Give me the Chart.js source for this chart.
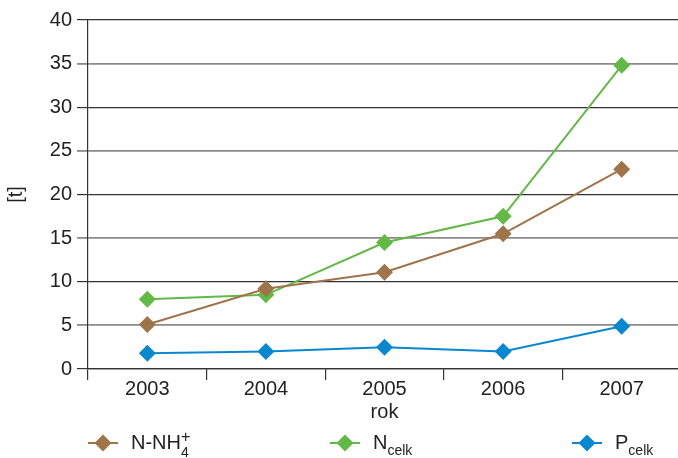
<!DOCTYPE html>
<html>
<head>
<meta charset="utf-8">
<script src="https://cdn.jsdelivr.net/npm/chart.js@4/dist/chart.umd.min.js"></script>
<style>
  html, body { margin: 0; padding: 0; background: #fff; }
  .wrap { position: relative; width: 678px; height: 458px; overflow: hidden; }
  canvas { position: absolute; left: 0; top: 0; }
  .legend { position: absolute; left: 0; top: 0; width: 678px; height: 458px; pointer-events: none;
            font-family: "Liberation Sans", Arial, sans-serif; font-size: 20px; color: #222; }
  .item { position: absolute; top: 430px; height: 26px; }
  .line { position: absolute; top: 11.5px; width: 30px; height: 2.5px; }
  .dia { position: absolute; top: 6.5px; left: 9px; width: 12px; height: 12px; transform: rotate(45deg); }
  .txt { position: absolute; left: 43px; top: 0; white-space: nowrap; line-height: 24px; }
  .sub { font-size: 14px; position: relative; top: 6px; }
  .ion { display: inline-block; position: relative; width: 10px; height: 24px; vertical-align: top; }
  .ion .lo { position: absolute; left: 0; top: 10px; font-size: 14px; }
  .ion .hi { position: absolute; left: 0; top: -5px; font-size: 16px; }
</style>
</head>
<body>
<div class="wrap">
  <canvas id="chart" width="700" height="458" style="width:700px;height:458px"></canvas>
  <div class="legend">
    <div class="item" style="left:88px">
      <div class="line" style="background:#A0744B"></div>
      <div class="dia" style="background:#A0744B"></div>
      <div class="txt">N-NH<span class="ion"><span class="lo">4</span><span class="hi">+</span></span></div>
    </div>
    <div class="item" style="left:330px">
      <div class="line" style="background:#62B946"></div>
      <div class="dia" style="background:#62B946"></div>
      <div class="txt">N<span class="sub">celk</span></div>
    </div>
    <div class="item" style="left:572px">
      <div class="line" style="background:#0A88CF"></div>
      <div class="dia" style="background:#0A88CF"></div>
      <div class="txt">P<span class="sub">celk</span></div>
    </div>
  </div>
</div>
<script>
const years = ["2003", "2004", "2005", "2006", "2007"];
const nh4 = [5.1, 9.2, 11.1, 15.5, 22.9];
const nCelk = [8.0, 8.5, 14.5, 17.5, 34.8];
const pCelk = [1.8, 2.0, 2.5, 2.0, 4.9];
const yTicks = [0, 5, 10, 15, 20, 25, 30, 35, 40];

const font = { family: "'Liberation Sans', Arial, sans-serif", size: 20 };

function series(data, color) {
  return {
    data,
    borderColor: color,
    backgroundColor: color,
    borderWidth: 2,
    pointStyle: "rectRot",
    pointRadius: 8.5,
    pointHoverRadius: 8.5,
    pointBorderWidth: 0,
    tension: 0,
  };
}

new Chart(document.getElementById("chart"), {
  type: "line",
  data: {
    labels: years,
    datasets: [
      series(nh4, "#A0744B"),
      series(nCelk, "#62B946"),
      series(pCelk, "#0A88CF"),
    ],
  },
  options: {
    responsive: false,
    devicePixelRatio: 1,
    animation: false,
    layout: { padding: { left: 0, top: 20, right: 19, bottom: 0 } },
    plugins: { legend: { display: false }, tooltip: { enabled: false } },
    scales: {
      x: {
        offset: true,
        afterFit(scale) { scale.height = 89; },
        grid: {
          offset: true,
          drawOnChartArea: false,
          tickLength: 11,
          color: "#333",
          lineWidth: 1.2,
        },
        border: { color: "#333", width: 1.2 },
        ticks: { color: "#222", font: { ...font, lineHeight: 1 }, padding: -1, maxRotation: 0 },
        title: {
          display: true,
          text: "rok",
          color: "#222",
          font,
          padding: { top: 0, bottom: 34 },
        },
      },
      y: {
        min: 0,
        max: 40,
        afterFit(scale) { scale.width = 88; },
        afterBuildTicks(scale) { scale.ticks = yTicks.map((v) => ({ value: v })); },
        grid: {
          tickLength: 11,
          color: (ctx) => (ctx.tick && ctx.tick.value % 10 === 0 ? "#333" : "#8a8a8a"),
          lineWidth: (ctx) => (ctx.tick && ctx.tick.value % 10 === 0 ? 1.2 : 1.8),
        },
        border: { color: "#333", width: 1.2 },
        ticks: { color: "#222", font, padding: 5 },
        title: {
          display: true,
          text: "[t]",
          color: "#222",
          font,
          padding: { top: 4, bottom: 0 },
        },
      },
    },
  },
});
</script>
</body>
</html>
